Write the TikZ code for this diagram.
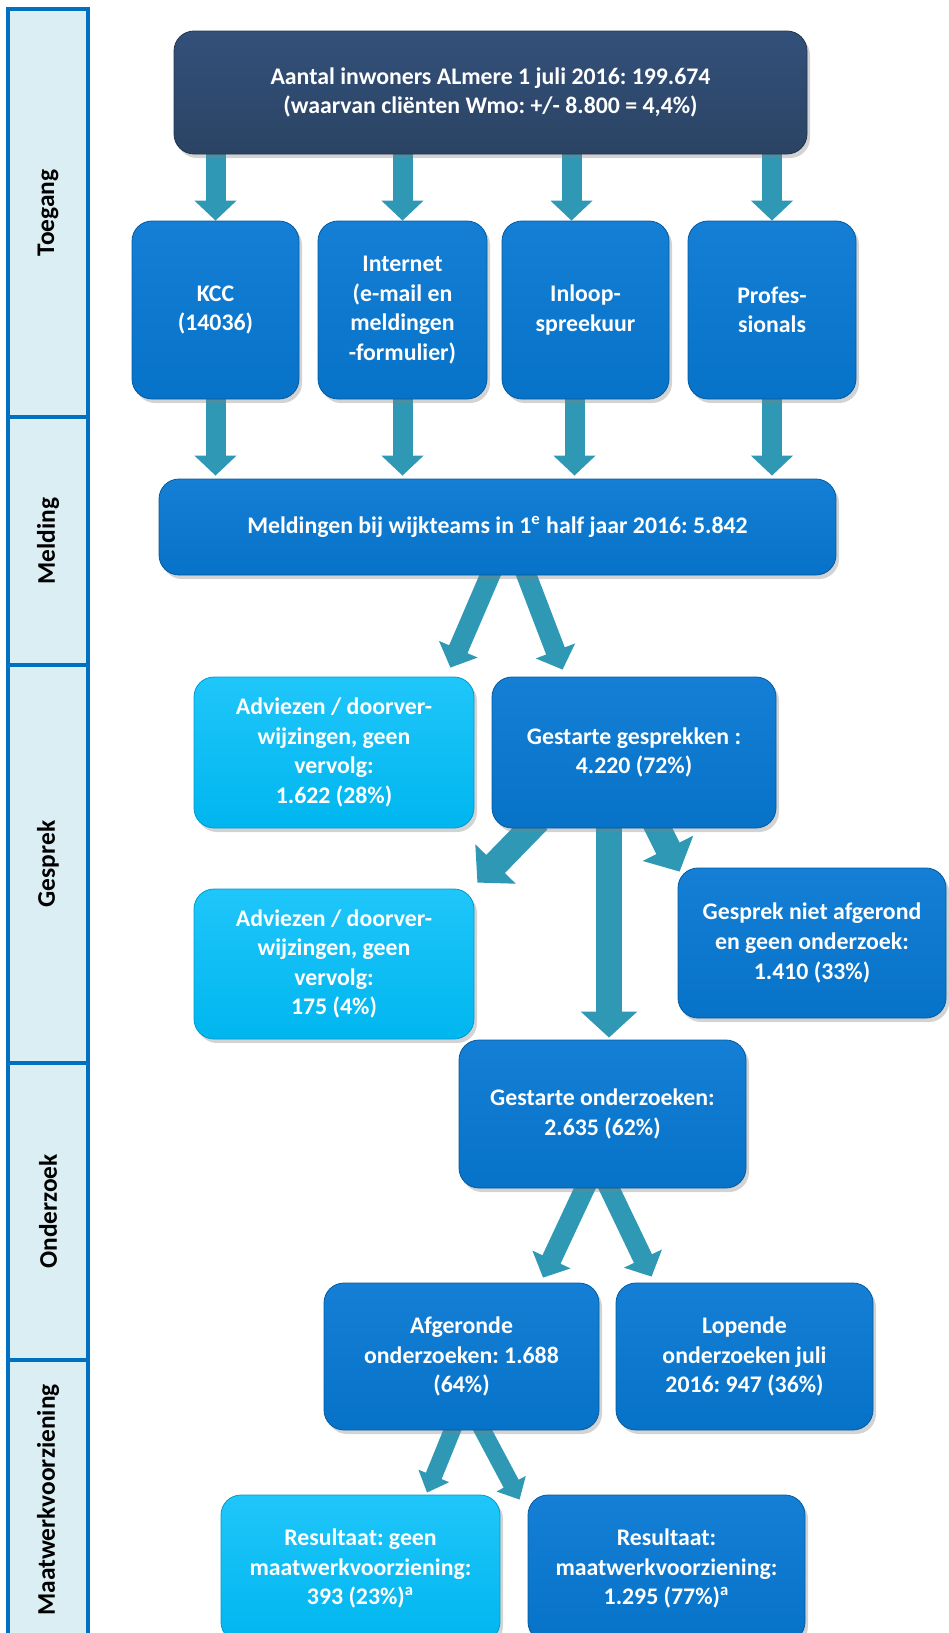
\documentclass[tikz,border=0pt]{standalone}
\usepackage{fontspec}
\setmainfont{Carlito}
\usetikzlibrary{arrows.meta,shadows}

\definecolor{navytop}{HTML}{33507A}
\definecolor{navybot}{HTML}{2B4464}
\definecolor{bluetop}{HTML}{147FD5}
\definecolor{bluebot}{HTML}{0672C8}
\definecolor{lighttop}{HTML}{1FC6FA}
\definecolor{lightbot}{HTML}{00B6EF}
\definecolor{arrowteal}{HTML}{2F98B5}
\definecolor{bandfill}{HTML}{DBEEF4}
\definecolor{bandline}{HTML}{0070C0}

\newcommand\flowfont{\fontsize{11.9}{14.8}\selectfont}

\pgfdeclarelayer{bg}
\pgfsetlayers{bg,main}

\tikzset{
  box/.style={rounded corners=10pt, text=white, font=\bfseries\flowfont\frenchspacing,
    align=center, inner sep=0pt,
    drop shadow={shadow xshift=1.5pt, shadow yshift=-2pt, opacity=0.35}},
  navybox/.style={box, draw=navybot!80!black, top color=navytop, bottom color=navybot},
  bluebox/.style={box, draw=bluebot!80!black, top color=bluetop, bottom color=bluebot},
  lightbox/.style={box, draw=lightbot!85!black, top color=lighttop, bottom color=lightbot},
  band/.style={draw=bandline, line width=2pt, fill=bandfill, rotate=90,
    minimum height=40pt, inner sep=0pt,
    font=\bfseries\fontsize{12.7}{14}\selectfont},
  flow/.style={arrowteal, line width=10pt, -{Triangle[width=20.5pt,length=10pt]}},
  bigflow/.style={arrowteal, line width=13pt, -{Triangle[width=27.5pt,length=13pt]}},
  smallflow/.style={arrowteal, line width=8.5pt, -{Triangle[width=16pt,length=9pt]}}
}

\begin{document}
\begin{tikzpicture}[x=0.5pt, y=-0.5pt]
\useasboundingbox (0,0) rectangle (948,1633);

\node[band, minimum width=204pt] (toegang) at (48,213) {Toegang};
\node[band, minimum width=124pt] (melding) at (48,541) {Melding};
\node[band, minimum width=199pt] (gesprek) at (48,864) {Gesprek};
\node[band, minimum width=148.5pt] (onderzoek) at (48,1211.5) {Onderzoek};
\node[band, minimum width=140pt] (maatwerk) at (48,1500) {Maatwerkvoorziening};

\node[navybox, minimum width=316.5pt, minimum height=61.5pt] (inwoners) at (490.5,92.5)
  {Aantal inwoners ALmere 1 juli 2016: 199.674\\(waarvan cliënten Wmo: +/- 8.800 = 4,4\%)};

\node[bluebox, minimum width=83.5pt, minimum height=89pt] (kcc) at (215.5,310) {KCC\\(14036)};
\node[bluebox, minimum width=84.5pt, minimum height=89pt] (internet) at (402.5,310)
  {Internet\\(e-mail en\\meldingen\\-formulier)};
\node[bluebox, minimum width=83.5pt, minimum height=89pt] (inloop) at (585.5,310) {Inloop-\\spreekuur};
\node[bluebox, minimum width=84pt, minimum height=89pt] (profs) at (772,310) {Profes-\\sionals};

\node[bluebox, minimum width=338.5pt, minimum height=48pt] (meld) at (497.5,527)
  {Meldingen bij wijkteams in 1\textsuperscript{e} half jaar 2016: 5.842};

\node[lightbox, minimum width=140pt, minimum height=75.5pt] (advies1) at (334,752.5)
  {Adviezen / doorver-\\wijzingen, geen\\vervolg:\\1.622 (28\%)};
\node[bluebox, minimum width=142pt, minimum height=75.5pt] (gestart) at (634,752.5)
  {Gestarte gesprekken :\\4.220 (72\%)};

\node[lightbox, minimum width=140pt, minimum height=75pt] (advies2) at (334,964)
  {Adviezen / doorver-\\wijzingen, geen\\vervolg:\\175 (4\%)};
\node[bluebox, minimum width=134pt, minimum height=75pt] (nietaf) at (812,943)
  {Gesprek niet afgerond\\en geen onderzoek:\\1.410 (33\%)};

\node[bluebox, minimum width=143.5pt, minimum height=74pt] (onderz) at (602.5,1114)
  {Gestarte onderzoeken:\\2.635 (62\%)};

\node[bluebox, minimum width=137.5pt, minimum height=73.5pt] (afgerond) at (461.5,1356.5)
  {Afgeronde\\onderzoeken: 1.688\\(64\%)};
\node[bluebox, minimum width=128.5pt, minimum height=73.5pt] (lopend) at (744.5,1356.5)
  {Lopende\\onderzoeken juli\\2016: 947 (36\%)};

\node[lightbox, minimum width=139.5pt, minimum height=73.5pt] (geen) at (360.5,1568.5)
  {Resultaat: geen\\maatwerkvoorziening:\\393 (23\%)\textsuperscript{a}};
\node[bluebox, minimum width=138.5pt, minimum height=73.5pt] (wel) at (666.5,1568.5)
  {Resultaat:\\maatwerkvoorziening:\\1.295 (77\%)\textsuperscript{a}};

\begin{pgfonlayer}{bg}
\foreach \n in {kcc,internet,profs}
  \draw[flow] ([yshift=4pt]inwoners.south -| \n.north) -- (\n.north);
\draw[flow] ([yshift=4pt,xshift=-7pt]inwoners.south -| inloop.north) -- ([xshift=-7pt]inloop.north);
\foreach \n in {kcc,internet,profs}
  \draw[flow] ([yshift=4pt]\n.south) -- ([yshift=1.5pt]\n.south |- meld.north);
\draw[flow] ([yshift=4pt,xshift=-5.5pt]inloop.south) -- ([yshift=1.5pt,xshift=-5.5pt]inloop.south |- meld.north);

\draw[flow] ([xshift=-2pt,yshift=4pt]meld.south) -- ([xshift=-12pt,yshift=4.5pt]advies1.north east);
\draw[flow] ([xshift=13pt,yshift=4pt]meld.south) -- ([xshift=35.5pt,yshift=3.5pt]gestart.north west);

\draw[bigflow] ([xshift=-48pt,yshift=4pt]gestart.south) -- ([xshift=1.5pt,yshift=3pt]advies2.north east);
\draw[bigflow] ([xshift=10pt,yshift=4pt]gestart.south) -- ([xshift=1pt,yshift=-2pt]nietaf.north west);
\draw[bigflow] ([xshift=-12.5pt,yshift=4pt]gestart.south) -- ([xshift=-12.5pt,yshift=1pt]gestart.south |- onderz.north);

\draw[flow] ([xshift=-7pt,yshift=4pt]onderz.south) -- ([xshift=40.75pt,yshift=2.5pt]afgerond.north);
\draw[flow] ([xshift=1.5pt,yshift=4pt]onderz.south) -- ([xshift=18pt,yshift=3pt]lopend.north west);

\draw[smallflow] ([xshift=-3pt,yshift=4pt]afgerond.south) -- ([xshift=33.25pt,yshift=1pt]geen.north);
\draw[smallflow] ([xshift=8.5pt,yshift=4pt]afgerond.south) -- ([xshift=-4pt,yshift=-2.5pt]wel.north west);
\end{pgfonlayer}
\end{tikzpicture}
\end{document}
